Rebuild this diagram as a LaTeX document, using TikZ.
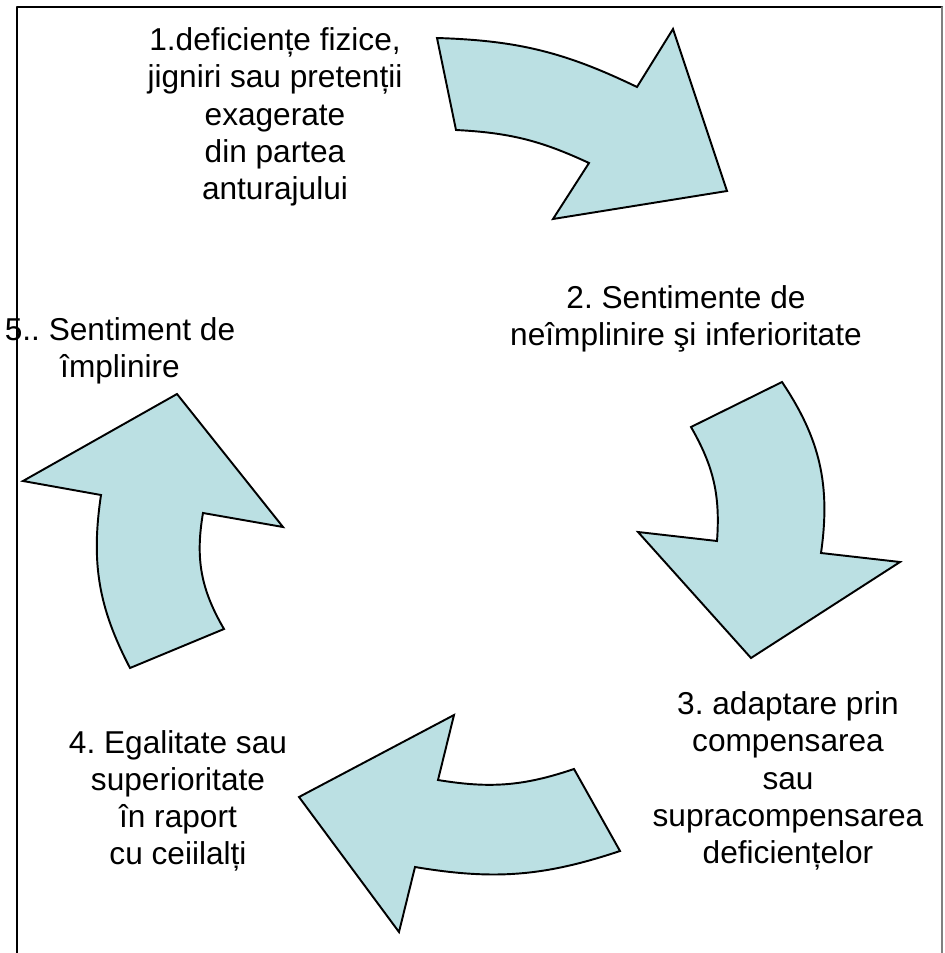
\documentclass[tikz,border=0pt]{standalone}
\usepackage{fontspec}
\setmainfont{Liberation Sans}
\usetikzlibrary{positioning}
\frenchspacing
\definecolor{arrowblue}{RGB}{187,224,227}
\tikzset{
  bluearrow/.style={fill=arrowblue, draw=black, line width=1.1pt, line join=miter},
  lbl/.style={align=center, inner sep=0pt, font=\fontsize{18}{21.2}\selectfont},
  every picture/.style={line cap=round, line join=round}
}

\begin{document}
\begin{tikzpicture}[x=0.02cm, y=-0.02cm]
  \useasboundingbox (0,0) rectangle (944,953);
  % frame
  \draw[line width=1.2pt] (17,953) -- (17,7) -- (942,7);
  \draw[gray, line width=0.8pt] (942,7) -- (942,953);
  % arrows
  \draw[bluearrow] (437,38) to[bend left=12] (637,87) -- (673,29) -- (727,191)
    -- (553,219) -- (589,163) to[bend right=11] (456,130) -- cycle;
  \draw[bluearrow] (782,382) to[bend left=21] (821,553) -- (900,562) -- (751,658)
    -- (638,532) -- (717,541) to[bend right=17] (691,427) -- cycle;
  \draw[bluearrow] (574,769) to[bend left=14] (438,780) -- (454,715) -- (299,797)
    -- (399,932) -- (415,867) to[bend right=14] (620,851) -- cycle;
  \draw[bluearrow] (130,668) to[bend left=18] (101,495) -- (23,481) -- (177,394)
    -- (283,527) -- (203,513) to[bend right=20] (224,629) -- cycle;
  % labels
  \node[lbl] (t1) at (275,117) {1.deficiențe fizice,\\jigniri sau pretenții\\exagerate\\din partea\\anturajului};
  \node[lbl] (t2) at (686,319) {2. Sentimente de\\neîmplinire şi inferioritate};
  \node[lbl] (t3) at (788,781) {3. adaptare prin\\compensarea\\sau\\supracompensarea\\deficiențelor};
  \node[lbl] (t4) at (178,801) {4. Egalitate sau\\superioritate\\în raport\\cu ceiilalți};
  \node[lbl] (t5) at (120,351) {5.. Sentiment de\\împlinire};
\end{tikzpicture}
\end{document}
